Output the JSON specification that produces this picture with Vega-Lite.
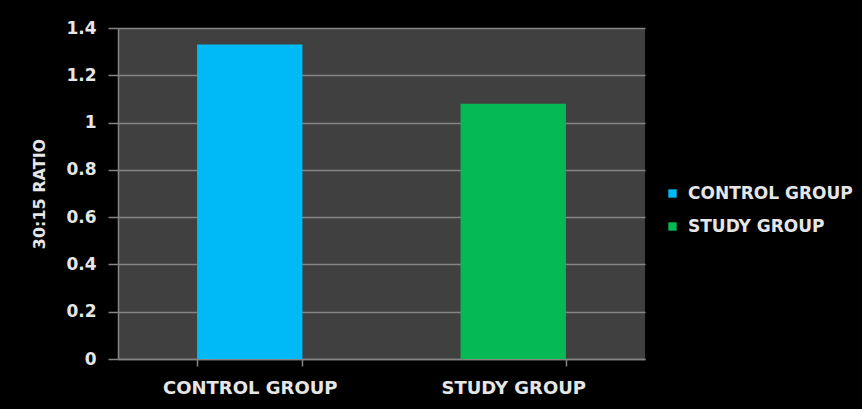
{
  "$schema": "https://vega.github.io/schema/vega-lite/v6.json",
  "autosize": {"type": "none"},
  "width": 527,
  "height": 331,
  "padding": {"left": 118, "top": 28, "right": 217, "bottom": 50},
  "background": "#000000",
  "data": {
    "values": [
      {"group": "CONTROL GROUP", "ratio": 1.33},
      {"group": "STUDY GROUP", "ratio": 1.08}
    ]
  },
  "config": {
    "view": {"fill": "#404040", "stroke": null},
    "font": "DejaVu Sans",
    "axis": {
      "labelFont": "DejaVu Sans",
      "titleFont": "DejaVu Sans",
      "labelColor": "#e6e6e6",
      "titleColor": "#e6e6e6",
      "domainColor": "#858585",
      "tickColor": "#858585",
      "gridColor": "#858585",
      "domainWidth": 1.5,
      "tickWidth": 1.5,
      "gridWidth": 1.5
    }
  },
  "mark": {"type": "bar"},
  "encoding": {
    "x": {
      "field": "group",
      "type": "nominal",
      "sort": null,
      "scale": {"paddingInner": 0.6, "paddingOuter": 0.3},
      "axis": {
        "title": null,
        "labelAngle": 0,
        "labelFontSize": 18,
        "labelFontWeight": "bold",
        "labelPadding": 13,
        "tickBand": "extent",
        "tickSize": 7,
        "grid": false
      }
    },
    "y": {
      "field": "ratio",
      "type": "quantitative",
      "scale": {"domain": [0, 1.4]},
      "axis": {
        "title": "30:15 RATIO",
        "titleFontSize": 16,
        "titleFontWeight": "bold",
        "titlePadding": 18,
        "values": [0, 0.2, 0.4, 0.6, 0.8, 1, 1.2, 1.4],
        "format": "~g",
        "labelFontSize": 17,
        "labelFontWeight": 600,
        "labelPadding": 12,
        "tickSize": 10,
        "grid": true
      }
    },
    "color": {
      "field": "group",
      "type": "nominal",
      "scale": {"domain": ["CONTROL GROUP", "STUDY GROUP"], "range": ["#00B9F7", "#05B954"]},
      "legend": {
        "title": null,
        "orient": "none",
        "legendX": 546,
        "legendY": 157,
        "symbolType": "square",
        "symbolSize": 70,
        "symbolStrokeWidth": 0,
        "labelFont": "DejaVu Sans",
        "labelFontSize": 17,
        "labelFontWeight": "bold",
        "labelColor": "#e6e6e6",
        "labelOffset": 7,
        "rowPadding": 15,
        "labelLimit": 300
      }
    }
  }
}
